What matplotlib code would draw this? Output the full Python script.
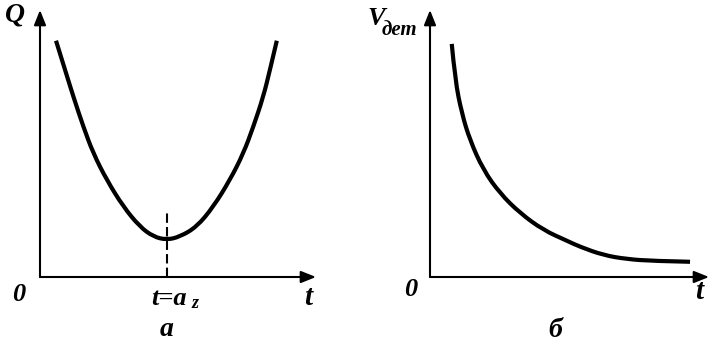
import matplotlib.pyplot as plt
from matplotlib.path import Path
from matplotlib.patches import PathPatch

# Q(t): parabolic curve with minimum at t = a_z
q_t = [0.58, 0.91, 1.21, 1.57, 1.93, 2.42, 3.02, 3.62, 4.11, 4.59,
       5.07, 5.68, 6.28, 6.88, 7.37, 7.73, 8.09, 8.33, 8.58]
q_val = [8.85, 7.75, 6.75, 5.63, 4.63, 3.63, 2.63, 1.88, 1.51, 1.39,
         1.51, 1.88, 2.63, 3.63, 4.63, 5.63, 6.75, 7.75, 8.85]
t_az = 4.59
az_top = 2.43

# V_det(t): decaying curve
v_t = [0.78, 0.90, 1.14, 1.43, 1.91, 2.51, 3.23, 4.06, 4.90, 5.38,
       6.21, 7.05, 8.00, 9.32]
v_val = [8.73, 7.38, 6.13, 5.13, 4.01, 3.13, 2.39, 1.76, 1.36, 1.13,
         0.82, 0.67, 0.60, 0.57]


def smooth_curve(ax, xs, ys, **kw):
    # quadratic Bezier through segment midpoints, read points as controls
    verts = [(xs[0], ys[0])]
    codes = [Path.MOVETO]
    n = len(xs)
    for i in range(1, n - 1):
        if i < n - 2:
            end = ((xs[i] + xs[i + 1]) / 2, (ys[i] + ys[i + 1]) / 2)
        else:
            end = (xs[-1], ys[-1])
        verts += [(xs[i], ys[i]), end]
        codes += [Path.CURVE3, Path.CURVE3]
    patch = PathPatch(Path(verts, codes), facecolor='none', clip_on=False,
                      capstyle='butt', joinstyle='round', **kw)
    ax.add_patch(patch)


W, H = 710, 343
fig = plt.figure(figsize=(W / 100, H / 100), dpi=100)

font = dict(family='Liberation Serif', weight='bold', style='italic')
fs = 19

ax1 = fig.add_axes([40 / W, 66 / H, 276 / W, 267 / H])
ax2 = fig.add_axes([430 / W, 66 / H, 279 / W, 267 / H])

for ax in (ax1, ax2):
    ax.set_xlim(0, 10)
    ax.set_ylim(0, 10)
    ax.axis('off')
    arrow = dict(arrowstyle='-|>,head_length=0.5,head_width=0.2', lw=1.5,
                 color='black', mutation_scale=18, shrinkA=0, shrinkB=0)
    ax.annotate('', xy=(10, 0), xytext=(0, 0), arrowprops=arrow,
                annotation_clip=False)
    ax.annotate('', xy=(0, 10), xytext=(0, 0), arrowprops=arrow,
                annotation_clip=False)

# left panel
smooth_curve(ax1, q_t, q_val, edgecolor='black', lw=3.0)
ax1.plot([t_az, t_az], [0, az_top], color='black', lw=1.5,
         dashes=(4.5, 2), clip_on=False)
ax1.text(-0.89, 9.80, 'Q', fontsize=fs + 1, ha='center', va='center', **font)
ax1.text(-0.76, -0.67, '0', fontsize=fs, ha='center', va='center', **font)
ax1.text(9.71, -0.77, 't', fontsize=fs + 2, ha='center', va='center', **font)
ax1.text(4.67, -0.81, 't=a', fontsize=fs, ha='center', va='center', **font)
ax1.text(5.62, -0.99, 'z', fontsize=fs - 6, ha='center', va='center', **font)
ax1.text(t_az, -1.95, 'а', fontsize=fs + 1, ha='center', va='center', **font)

# right panel
smooth_curve(ax2, v_t, v_val, edgecolor='black', lw=3.0)
ax2.text(-1.94, 9.70, 'V', fontsize=fs, ha='center', va='center', **font)
ax2.text(-1.08, 9.25, 'дет', fontsize=fs - 4, ha='center', va='center', **font)
ax2.text(-0.68, -0.47, '0', fontsize=fs, ha='center', va='center', **font)
ax2.text(9.64, -0.54, 't', fontsize=fs + 2, ha='center', va='center', **font)
ax2.text(4.48, -1.99, 'б', fontsize=fs + 1, ha='center', va='center', **font)

fig.savefig('out.png', dpi=100)
